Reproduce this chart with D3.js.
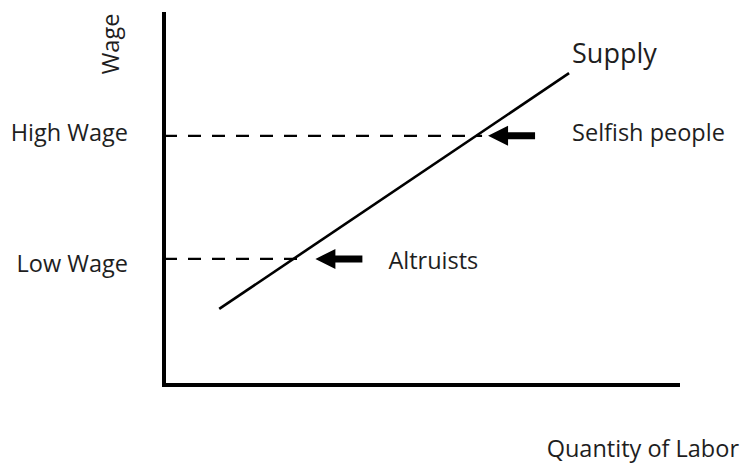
<!DOCTYPE html>
<html>
<head>
    <style>
        body { margin: 0; background: #fff; }
        text {
            font-family: "Open Sans", sans-serif;
            fill: #1e1e1e;
        }
    </style>
    <script src="https://d3js.org/d3.v7.min.js"></script>
</head>
<body>
    <svg width="742" height="464"></svg>
    <script>

        // wage levels (y units, axis runs 0..10)
        var wageLabels = ["High Wage", "Low Wage"];
        var wageValues = [6.68, 3.38];

        // who supplies labour at each wage
        var groupLabels = ["Selfish people", "Altruists"];

        // supply curve end points
        var supplyQ = [1.07, 7.85];
        var supplyW = [2.04, 8.36];

        var svg = d3.select("svg");

        var x = d3.scaleLinear().domain([0, 10]).range([164, 680]);
        var y = d3.scaleLinear().domain([0, 10]).range([385, 12]);

        // where a wage line meets the supply curve
        function supplyAt(w) {
            var t = (w - supplyW[0]) / (supplyW[1] - supplyW[0]);
            return supplyQ[0] + t * (supplyQ[1] - supplyQ[0]);
        }

        // dashed wage lines
        svg.selectAll(".wage")
           .data(wageValues)
           .enter().append("line")
           .attr("class", "wage")
           .attr("x1", x(0))
           .attr("x2", function(d) { return x(supplyAt(d)) + 6; })
           .attr("y1", function(d) { return y(d); })
           .attr("y2", function(d) { return y(d); })
           .attr("stroke", "#000")
           .attr("stroke-width", 2.2)
           .attr("stroke-dasharray", "13,11");

        // axes (plain L shape)
        svg.append("path")
           .attr("d", "M" + x(0) + "," + y(10) + "V" + y(0) + "H" + x(10))
           .attr("fill", "none")
           .attr("stroke", "#000")
           .attr("stroke-width", 4);

        // supply line
        svg.append("line")
           .attr("x1", x(supplyQ[0])).attr("y1", y(supplyW[0]))
           .attr("x2", x(supplyQ[1])).attr("y2", y(supplyW[1]))
           .attr("stroke", "#000")
           .attr("stroke-width", 2.6);

        svg.append("text")
           .attr("x", x(supplyQ[1]) + 3)
           .attr("y", y(supplyW[1]) - 10)
           .style("font-size", "27px")
           .text("Supply");

        // wage tick labels, baseline a bit below each line
        var drop = [5, 13];
        svg.selectAll(".wlabel")
           .data(wageLabels)
           .enter().append("text")
           .attr("class", "wlabel")
           .attr("x", 128)
           .attr("y", function(d, i) { return y(wageValues[i]) + drop[i]; })
           .attr("text-anchor", "end")
           .style("font-size", "23.5px")
           .text(function(d) { return d; });

        // arrows and group labels
        var gaps = [12, 22];
        var arrow = svg.selectAll(".arrow")
           .data(groupLabels)
           .enter().append("g")
           .attr("class", "arrow")
           .attr("transform", function(d, i) {
               return "translate(" + (x(supplyAt(wageValues[i])) + gaps[i]) + "," + y(wageValues[i]) + ")";
           });

        arrow.append("path")
             .attr("d", "M0,0 L20,-10 L20,-3.5 L47,-3.5 L47,3.5 L20,3.5 L20,10 Z")
             .attr("fill", "#000");

        arrow.append("text")
             .attr("x", function(d, i) { return i == 0 ? 84 : 73; })
             .attr("y", function(d, i) { return i == 0 ? 5 : 10; })
             .style("font-size", "23.5px")
             .text(function(d) { return d; });

        // axis titles
        svg.append("text")
           .attr("transform", "translate(119,44) rotate(-90)")
           .attr("text-anchor", "middle")
           .style("font-size", "23.5px")
           .text("Wage");

        svg.append("text")
           .attr("x", 739)
           .attr("y", 457)
           .attr("text-anchor", "end")
           .style("font-size", "23.5px")
           .text("Quantity of Labor");

    </script>
</body>
</html>
